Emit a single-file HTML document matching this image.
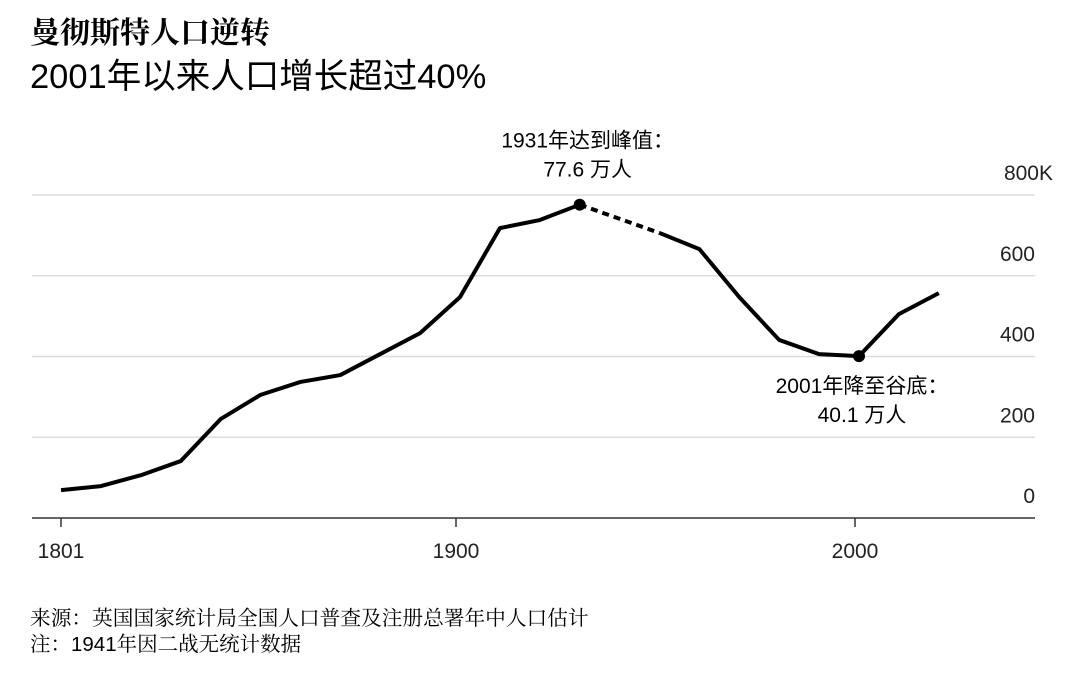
<!DOCTYPE html>
<html><head><meta charset="utf-8"><style>
body{margin:0;background:#fff;width:1080px;height:679px;overflow:hidden;font-family:"Liberation Sans","Noto Sans CJK SC",sans-serif;}
</style></head><body>
<svg width="1080" height="679" xmlns="http://www.w3.org/2000/svg" font-family="Liberation Sans, Noto Sans CJK SC, sans-serif">
<text x="30" y="43" font-size="30" font-weight="bold" font-family="Noto Serif CJK SC, serif">曼彻斯特人口逆转</text>
<text x="30" y="88" font-size="34.5">2001年以来人口增长超过40%</text>
<g id="grid"></g>
<g id="marks"></g>
<text x="30" y="625" font-size="20.7" font-family="Noto Serif CJK SC, serif">来源：英国国家统计局全国人口普查及注册总署年中人口估计</text>
<text x="30" y="651" font-size="20.5" font-family="Noto Serif CJK SC, serif">注：<tspan font-family="Liberation Sans, sans-serif">1941</tspan>年因二战无统计数据</text>
</svg>
<script>
const years=[1801,1811,1821,1831,1841,1851,1861,1871,1881,1891,1901,1911,1921,1931,1951,1961,1971,1981,1991,2001,2011,2021];
const pop=[69,79,106,141,245,305,337,354,406,458,547,718,738,776,706,666,547,441,406,401,505,557];
const yTicks=[0,200,400,600,800];
const yTickLabels=["0","200","400","600","800K"];
const xTicks=[1801,1900,2000];
const NS="http://www.w3.org/2000/svg";
const x=v=>61+(v-1801)*(855-61)/(2000-1801);
const y=v=>518-v*(518-195)/800;
function mk(t,a,p){const e=document.createElementNS(NS,t);for(const k in a)e.setAttribute(k,a[k]);p.appendChild(e);return e;}
const g=document.getElementById('grid'),m=document.getElementById('marks');
yTicks.forEach((t,i)=>{
 const l=mk('line',{x1:32,x2:1035,y1:y(t),y2:y(t),stroke:t===0?'#333':'#ddd','stroke-width':1.5},g);
 
 
 const tx=mk('text',{x:t===800?1053:1035,y:y(t)-15,'font-size':21,'text-anchor':'end',fill:'#222'},g);
 tx.textContent=yTickLabels[i];
 
 
});
xTicks.forEach(t=>{
 const l=mk('line',{x1:x(t),x2:x(t),y1:518,y2:527,stroke:'#333','stroke-width':1.5},g);
 
 
 const tx=mk('text',{x:x(t),y:558,'font-size':21,'text-anchor':'middle',fill:'#222'},g);
 tx.textContent=t;
 
 
});
const gap=years.indexOf(1931);
const pts=(a,b)=>years.slice(a,b).map((yr,i)=>x(yr)+','+y(pop[a+i])).join(' ');
const l1=mk('polyline',{points:pts(0,gap+1),fill:'none',stroke:'#000','stroke-width':4,'stroke-linejoin':'round'},m);


const l2=mk('polyline',{points:pts(gap,gap+2),fill:'none',stroke:'#000','stroke-width':4,'stroke-dasharray':'7,5'},m);


const l3=mk('polyline',{points:pts(gap+1,years.length),fill:'none',stroke:'#000','stroke-width':4,'stroke-linejoin':'round'},m);


[1931,2001].forEach(yr=>{
 const i=years.indexOf(yr);
 const c=mk('circle',{cx:x(yr),cy:y(pop[i]),r:6,fill:'#000'},m);
 
 
});
function ann(lines,cx,y0,name){lines.forEach((s,k)=>{const t=mk('text',{x:cx,y:y0+k*29,'font-size':21,'text-anchor':'middle',fill:'#000'},m);t.textContent=s;
 
 });}
const pi=years.indexOf(1931),ti=years.indexOf(2001);
ann(['1931年达到峰值：',(pop[pi]/10).toFixed(1)+' 万人'],x(1931)+8,y(pop[pi])-57,'peak-annotation');
ann(['2001年降至谷底：',(pop[ti]/10).toFixed(1)+' 万人'],x(2001)+3,y(pop[ti])+37,'trough-annotation');
</script>
</body></html>
